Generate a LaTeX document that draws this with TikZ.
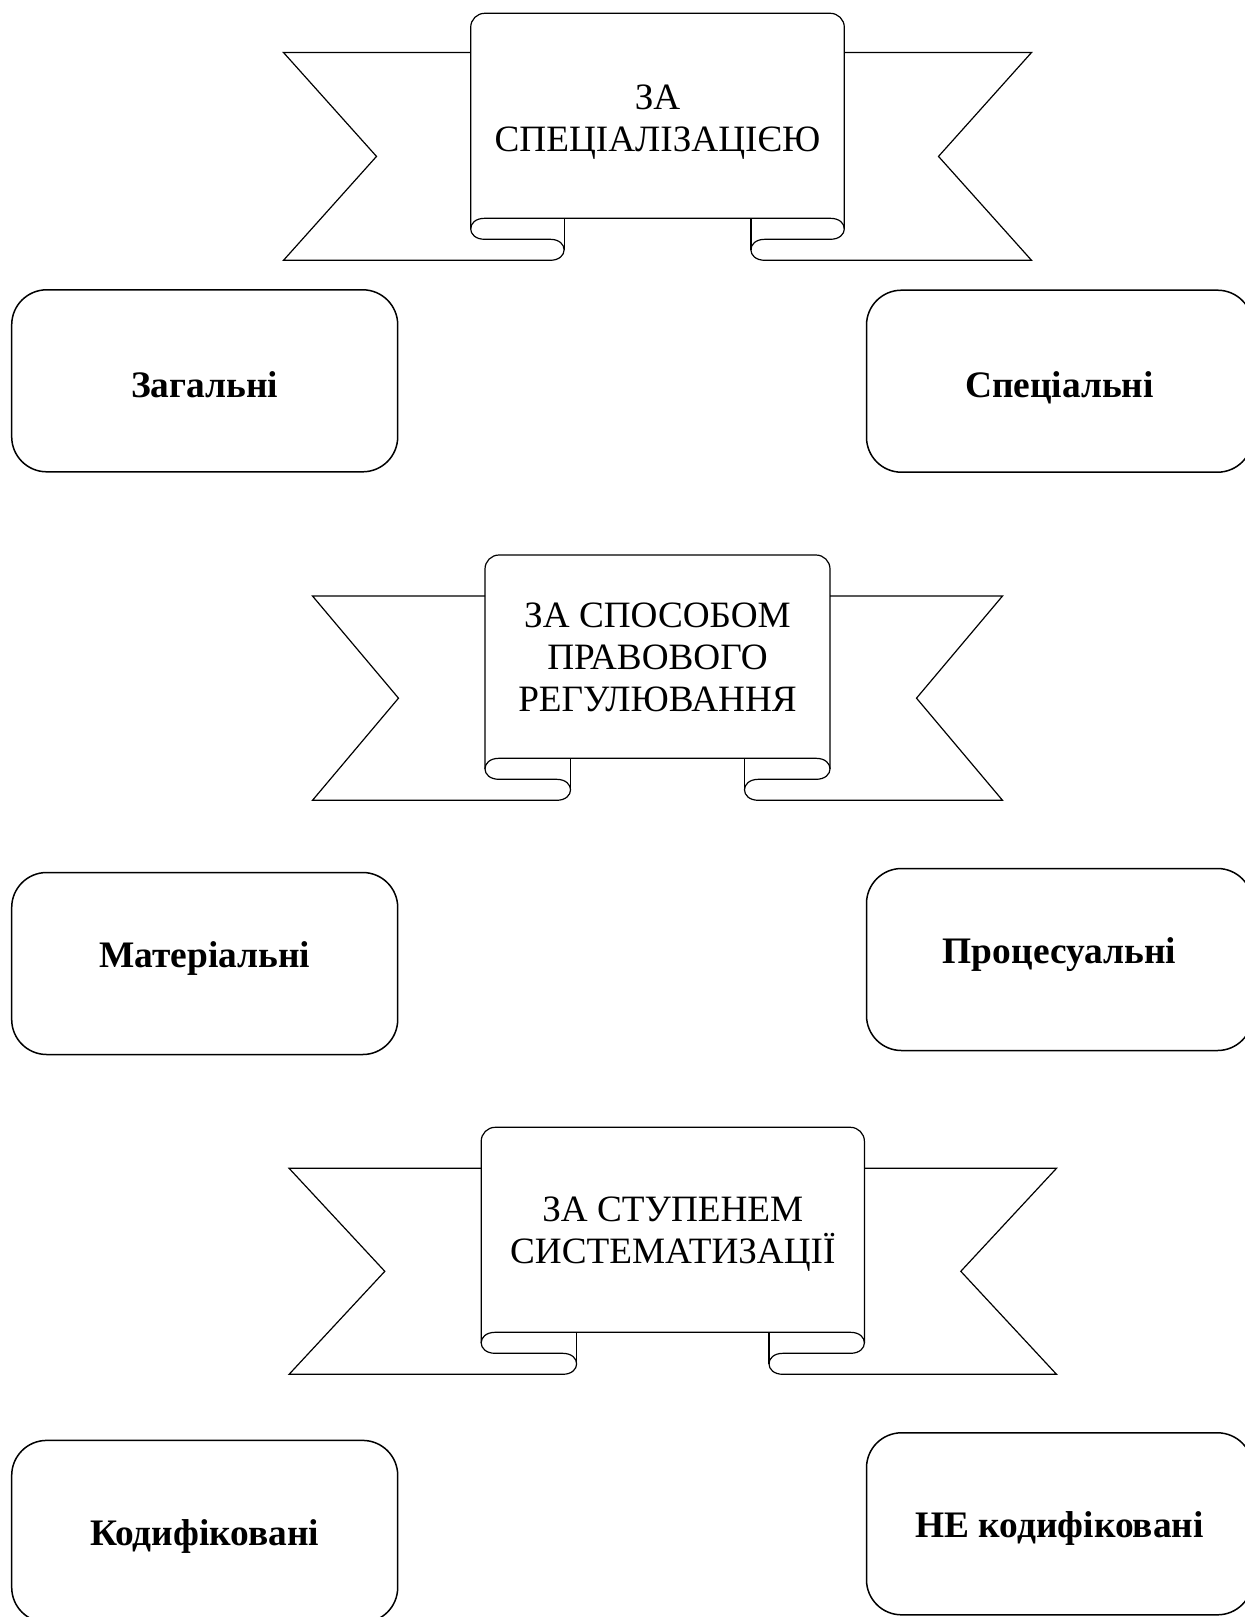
\documentclass[tikz,border=0pt]{standalone}
\usepackage{fontspec}
\setmainfont{Liberation Serif}

% scroll banner: #1 centre x, #2 panel top, #3 wing top, #4 curl line,
% #5 panel half width, #6 wing half width, #7 notch depth, #8 fold offset
\newcommand{\scrollshape}[8]{%
  \begin{scope}[shift={(#1,0)}, scrollline]
    \draw ({-#5},#3) -- ({-#6},#3) -- ({-#6+#7},{(#3+#4+42)/2}) -- ({-#6},{#4+42})
      -- ({-#8-14},{#4+42})
      .. controls ({-#8+4.7},{#4+42}) and ({-#8+4.7},{#4+21}) .. ({-#8-14},{#4+21})
      -- ({-#5+14},{#4+21})
      .. controls ({-#5-4.7},{#4+21}) and ({-#5-4.7},#4) .. ({-#5+14},#4)
      -- ({#5-14},#4)
      .. controls ({#5+4.7},#4) and ({#5+4.7},{#4+21}) .. ({#5-14},{#4+21})
      -- ({#8+14},{#4+21})
      .. controls ({#8-4.7},{#4+21}) and ({#8-4.7},{#4+42}) .. ({#8+14},{#4+42})
      -- ({#6},{#4+42}) -- ({#6-#7},{(#3+#4+42)/2}) -- ({#6},#3) -- ({#5},#3);
    \draw ({-#8},#4) -- ({-#8},{#4+31.5});
    \draw ({#8},#4) -- ({#8},{#4+31.5});
    \draw[rounded corners=7pt] ({-#5},{#4+10.5}) -- ({-#5},#2) -- ({#5},#2) -- ({#5},{#4+10.5});
  \end{scope}}

\tikzset{
  scrollline/.style={line width=0.6pt, line join=miter},
  scrolltext/.style={align=center, font=\fontsize{18.6pt}{21pt}\selectfont},
  card/.style={draw, line width=0.75pt, rounded corners=17.5pt,
    minimum width=193pt, minimum height=91pt,
    text height=12.3pt, text depth=0pt,
    font=\fontsize{18.7pt}{22pt}\selectfont\bfseries}
}

\begin{document}
\begin{tikzpicture}[x=0.5pt,y=-0.5pt]
	\useasboundingbox (0,0) rectangle (1245,1617);

	% first banner and its two kinds
	\scrollshape{657.5}{13.3}{52.5}{218.3}{186.8}{374}{93}{93.4}
	\node[scrolltext] (spec) at (657.5,122) {ЗА\\СПЕЦІАЛІЗАЦІЄЮ};
	\node[card, text height=16.3pt] (zag) at (204.7,380.8) {Загальні};
	\node[card, text height=16.3pt] (spets) at (1059.5,381.2) {Спеціальні};

	% second banner
	\scrollshape{657.5}{555}{596}{758.3}{172.5}{345}{86}{87}
	\node[scrolltext] (sposib) at (657.5,657.5) {ЗА СПОСОБОМ\\ПРАВОВОГО\\РЕГУЛЮВАННЯ};
	\node[card, text depth=8.5pt] (mater) at (204.7,963.5) {Матеріальні};
	\node[card, text depth=8.5pt] (proc) at (1059.5,959.5) {Процесуальні};

	% third banner
	\scrollshape{672.8}{1127.3}{1168.3}{1332.3}{191.6}{383.7}{95.7}{96.2}
	\node[scrolltext] (stup) at (672.8,1234) {ЗА СТУПЕНЕМ\\СИСТЕМАТИЗАЦІЇ};
	\node[card, text height=14.3pt] (kod) at (204.7,1531.4) {Кодифіковані};
	\node[card, text height=13.3pt] (nekod) at (1059.5,1523.8) {НЕ кодифіковані};
\end{tikzpicture}
\end{document}
